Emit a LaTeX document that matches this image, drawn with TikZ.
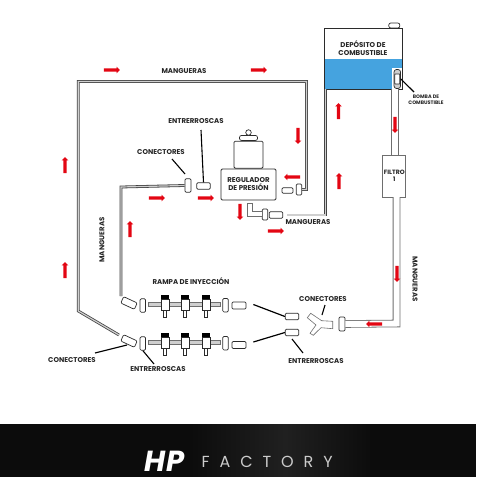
\documentclass[tikz,border=0pt]{standalone}
\usepackage{fontspec}
\setsansfont{Poppins}
\newfontfamily\marcaFont[LetterSpace=62]{Poppins}
\newfontfamily\logoFont{Poppins}
\definecolor{lineaDark}{HTML}{2B2B2B}
\definecolor{hoseDark}{HTML}{444444}
\definecolor{hoseFill}{HTML}{CFCFCF}
\definecolor{hoseGris}{HTML}{6E6E6E}
\definecolor{tankBlue}{HTML}{45A3DF}
\definecolor{flechaRed}{HTML}{E30613}
\definecolor{bandBlack}{HTML}{0C0C0C}
\definecolor{bandGris}{HTML}{202020}
\usetikzlibrary{arrows.meta, positioning, shapes.arrows}

\begin{document}
\begin{tikzpicture}[
  x=1pt, y=-1pt,
  rotulo/.style={font=\sffamily\bfseries\fontsize{7}{8}\selectfont, text=black!85, inner sep=0pt, align=center},
  rotuloChico/.style={rotulo, font=\sffamily\bfseries\fontsize{5}{6}\selectfont},
  pieza/.style={draw=lineaDark, line width=0.7pt, fill=white, rounded corners=1.2pt, inner sep=0pt},
  rosca/.style={pieza, minimum width=13.5pt, minimum height=6.5pt},
  conector/.style={pieza, minimum width=6pt, minimum height=13.5pt},
  hose/.style={draw=hoseDark, line width=0.8pt, double=hoseFill, double distance=1.2pt},
  hoseAncha/.style={draw=hoseGris, line width=0.8pt, double=white, double distance=6pt},
  guia/.style={draw=black, line width=1.1pt},
  flecha/.style={single arrow, fill=flechaRed, minimum height=16pt, single arrow head extend=1.6pt, single arrow head indent=0pt, inner sep=1.5pt},
  riel/.style={draw=hoseGris, line width=0.6pt, fill=hoseFill, minimum width=72pt, minimum height=3.6pt, inner sep=0pt},
  cuerpo/.style={pieza, minimum width=8pt, minimum height=11pt, rounded corners=0pt},
  tapa/.style={fill=black, minimum width=8.6pt, minimum height=4.4pt, inner sep=0pt},
  punta/.style={pieza, minimum width=3.6pt, minimum height=7pt, rounded corners=0pt},
]
  \useasboundingbox (0,0) rectangle (476,500);

  % deposito
  \node[fill=tankBlue, minimum width=78.5pt, minimum height=30pt, inner sep=0pt] (agua) at (364,74) {};
  \node[draw=lineaDark, line width=0.8pt, minimum width=78pt, minimum height=61pt, inner sep=0pt] (deposito) at (363,58.5) {};
  \node[fill=white, minimum width=10pt, minimum height=21pt, inner sep=0pt] (hueco) at (397,78.5) {};
  \draw[lineaDark, line width=0.8pt] (324,89) -- (402,89);
  \node[pieza, minimum width=11pt, minimum height=5pt, rounded corners=2pt] (tapon) at (394.3,25.5) {};
  \node[rotulo] (depTxt) at (363,48) {DEPÓSITO DE\\COMBUSTIBLE};
  \node[pieza, minimum width=6.5pt, minimum height=19pt, rounded corners=2.5pt, fill=hoseFill] (bomba) at (397.3,79) {};
  \node[pieza, minimum width=5pt, minimum height=10pt, rounded corners=0.5pt] (bombaIn) at (397.3,79) {};
  \node[rotuloChico] (bombaTxt) at (426,100) {BOMBA DE\\COMBUSTIBLE};
  \coordinate (bombaFin) at (414,92);
  \draw[guia] (bomba.east) -- (bombaFin);

  % filtro
  \node[draw=hoseGris, line width=0.8pt, minimum width=23pt, minimum height=42pt, inner sep=0pt, fill=white] (filtro) at (394.3,176) {};
  \node[rotulo, font=\sffamily\bfseries\fontsize{6.2}{7.5}\selectfont] (filtroTxt) at (filtro.center) {FILTRO\\1};

  % regulador
  \node[pieza, line width=0.8pt, minimum width=55pt, minimum height=31pt] (regulador) at (248.5,184.5) {};
  \node[rotulo] (regTxt) at (regulador.center) {REGULADOR\\DE PRESIÓN};
  \node[pieza, line width=0.8pt, minimum width=29pt, minimum height=27pt, above=0pt of regulador] (regCuerpo) {};
  \node[pieza, minimum width=18pt, minimum height=5pt, rounded corners=2pt, above=0pt of regCuerpo] (regTapa) {};
  \node[pieza, circle, minimum size=5.5pt, above=-0.5pt of regTapa] (regPomo) {};

  % piezas del regulador
  \node[conector] (conA) at (188,185.5) {};
  \node[rosca] (rosA) at (203.5,186) {};
  \node[rosca, minimum width=11pt, minimum height=5.5pt] (rosB) at (287.5,190.5) {};
  \node[conector, minimum width=5.5pt, minimum height=11pt] (conB) at (299,189.5) {};
  \node[conector, minimum width=5.5pt, minimum height=11pt] (conC) at (265,214.5) {};
  \node[rosca] (rosC) at (276,215) {};
  \draw[draw=hoseGris, line width=0.7pt, fill=white] (247.3,203.3) -- (252.7,203.3) -- (252.7,211.7) -- (262.7,211.7) -- (262.7,216.7) -- (247.3,216.7) -- cycle;

  % rampas
  \foreach \ry/\rn/\cy in {304/a/304,342/b/343.5} {
    \node[riel] (riel\rn) at (184.5,\ry) {};
    \foreach \ix in {165,185,206} {
      \node[punta] (punta\rn\ix) at (\ix,\ry+9.5) {};
      \node[cuerpo] (cuerpo\rn\ix) at (\ix,\ry+0.5) {};
      \node[tapa] (tapa\rn\ix) at (\ix,\ry-7) {};
    }
    \node[conector, minimum width=5.5pt, minimum height=13.5pt] (conI\rn) at (142.8,\ry+1.5) {};
    \node[conector, minimum width=5.5pt, minimum height=13.5pt] (conD\rn) at (225.5,\ry+1.2) {};
    \node[rosca, minimum width=14pt, minimum height=7pt] (rosD\rn) at (239,\cy+1.5) {};
    \node[rosca, minimum width=15pt, minimum height=7pt, rotate=-25] (rosI\rn) at (129,\ry-1) {};
  }

  % union en Y
  \draw[draw=hoseGris, line width=0.6pt, fill=white] (307.3,317.7) -- (310.7,313.3) -- (321.7,320.7) -- (332.7,321.3) -- (332.7,328.7) -- (321,327.7) -- (313.3,335.3) -- (310,333.3) -- (316,325) -- cycle;
  \coordinate (unionY) at (322,315);
  \node[rosca] (rosE) at (292,316.5) {};
  \node[rosca] (rosF) at (292,332.5) {};
  \node[conector, minimum height=14pt] (conF) at (342,324) {};

  % mangueras
  \coordinate (h1) at (325.3,215);
  \coordinate (h2) at (287,215);
  \coordinate (h3) at (306.5,81.5);
  \coordinate (h4) at (78.3,81.5);
  \coordinate (h5) at (78.3,311);
  \coordinate (h6) at (119,335);
  \coordinate (h7) at (121,187);
  \coordinate (h8) at (121,296);
  \coordinate (h9) at (396.5,323.5);
  \draw[hose] (325.3,89) -- (h1) -- (h2);
  \draw[hose] (conB.east) -- (306.5,189.5) -- (h3) -- (h4) -- (h5) -- (h6);
  \draw[hose] (conA.west) -- (h7) -- (h8);
  \draw[hoseAncha] (394.8,89.3) -- (394.8,155);
  \draw[hoseAncha] (396.5,197) -- (h9) -- (conF.east);

  % flechas
  \foreach \fx/\fy/\fa/\fn in {111/70/0/a, 258/70/0/b, 65/166/90/c, 65/271/90/d, 130/230/90/e,
      338.5/112/90/f, 339/182/90/g, 395/124/-90/h, 156/198/0/i, 205/198/0/j, 293/177/180/k,
      298/135/-90/l, 240/211/-90/m, 275/231/0/n, 397/273/-90/o, 375/324/180/p} {
    \node[flecha, rotate=\fa] (flecha\fn) at (\fx,\fy) {};
  }

  % rotulos
  \node[rotulo] (mangSup) at (184,71) {MANGUERAS};
  \node[rotulo] (mangInf) at (308,222) {MANGUERAS};
  \node[rotulo, rotate=90] (mangIzq) at (102,240) {MANGUERAS};
  \node[rotulo, rotate=-90] (mangDer) at (415,279) {MANGUERAS};
  \node[rotulo] (entUno) at (196,121) {ENTRERROSCAS};
  \node[rotulo] (conUno) at (161,152) {CONECTORES};
  \node[rotulo] (rampa) at (191,281) {RAMPA DE INYECCIÓN};
  \node[rotulo] (conDos) at (72,360) {CONECTORES};
  \node[rotulo] (entDos) at (158,369) {ENTRERROSCAS};
  \node[rotulo] (conTres) at (323,299) {CONECTORES};
  \node[rotulo] (entTres) at (316,361) {ENTRERROSCAS};

  % lineas guia
  \coordinate (g1) at (201,130);
  \coordinate (g2) at (172,159);
  \coordinate (g3) at (185,174);
  \coordinate (g4) at (95,353);
  \coordinate (g5) at (127,345);
  \coordinate (g6) at (154,364);
  \coordinate (g7) at (325,305);
  \coordinate (g8) at (303,353);
  \coordinate (g9) at (292,339);
  \draw[guia] (g1) -- (rosA.north);
  \draw[guia] (g2) -- (g3);
  \draw[guia] (g4) -- (g5);
  \draw[guia] (conIb.south) -- (g6);
  \draw[guia] (g7) -- (unionY);
  \draw[guia] (g9) -- (g8);
  \draw[guia, line width=1.2pt] (rosDa.east) ++(7,-1) -- (rosE.west);
  \draw[guia, line width=1.2pt] (rosDb.east) ++(7,-3) -- (rosF.west);

  % banda inferior
  \fill[bandBlack] (0,424) rectangle (476,477);
  \shade[left color=bandBlack, right color=bandGris] (190,424) rectangle (285,477);
  \shade[left color=bandGris, right color=bandBlack] (285,424) rectangle (372,477);
  \fill[white] (0,477) rectangle (476,500);
  \node[text=white, inner sep=0pt, font=\logoFont\bfseries\itshape\fontsize{29}{29}\selectfont] (logo) at (164.5,461) {HP};
  \node[text=white!80!black, inner sep=0pt, anchor=west, font=\marcaFont\fontsize{16}{16}\selectfont] (marca) at (201.5,461.5) {FACTORY};
\end{tikzpicture}
\end{document}
